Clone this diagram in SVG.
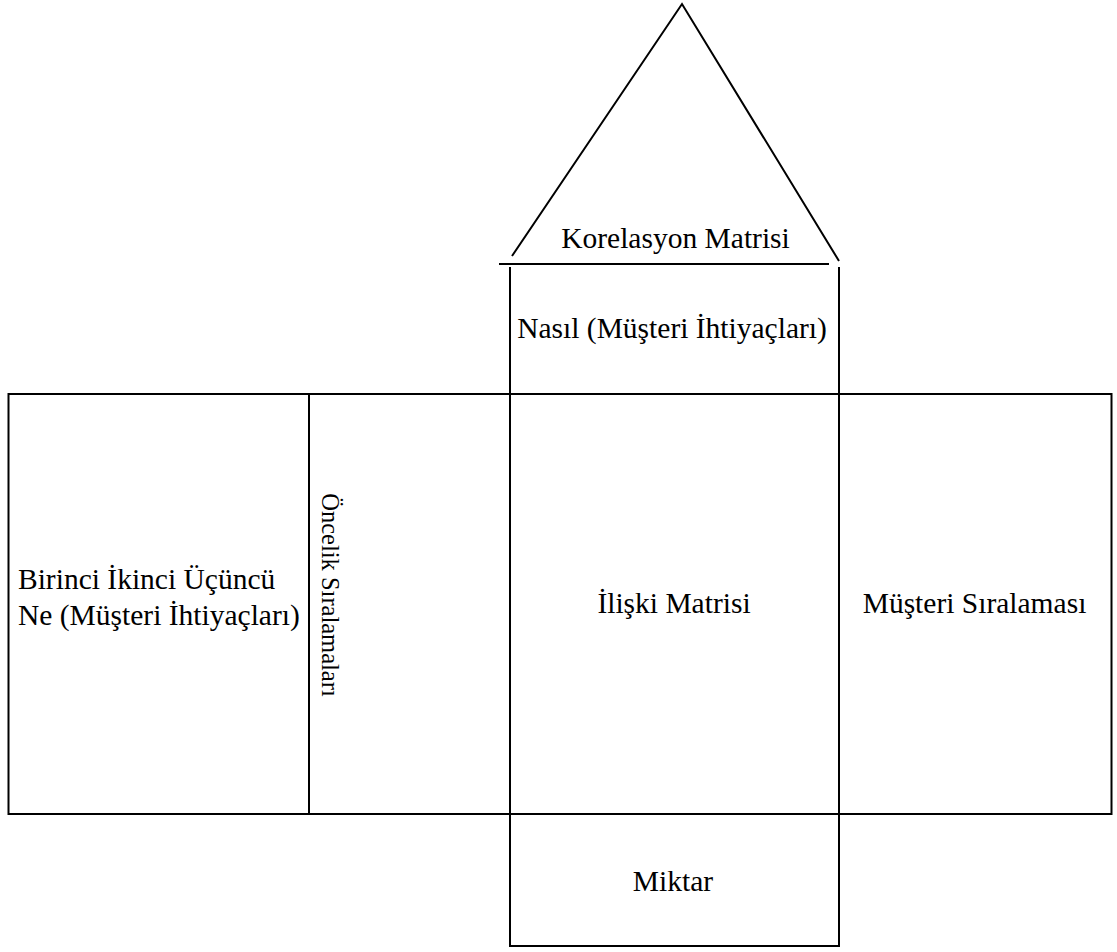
<svg xmlns="http://www.w3.org/2000/svg" width="1117" height="952" viewBox="0 0 1117 952">
<style>
.ln{stroke:#000;stroke-width:2;fill:none}
text{font-family:'Liberation Serif','Times New Roman',Times,serif;font-size:29.5px;fill:#000}
.c{text-anchor:middle}
</style>
<rect width="1117" height="952" fill="#fff"/>
<g id="connectors">
<polyline class="ln" points="512,256 682,4 839,261"/>
<line class="ln" x1="499" y1="264" x2="829" y2="264"/>
<line class="ln" x1="510" y1="267" x2="510" y2="394"/>
<line class="ln" x1="839" y1="267" x2="839" y2="394"/>
</g>
<g id="korelasyon"><text class="c" x="675.5" y="248">Korelasyon Matrisi</text></g>
<g id="nasil"><text class="c" x="672" y="338">Nasıl (Müşteri İhtiyaçları)</text></g>
<g id="main">
<rect class="ln" x="8.5" y="394" width="1103" height="420"/>
<line class="ln" x1="309" y1="394" x2="309" y2="814"/>
<line class="ln" x1="510" y1="394" x2="510" y2="814"/>
<line class="ln" x1="839" y1="394" x2="839" y2="814"/>
</g>
<g id="ne"><text x="18" y="589">Birinci İkinci Üçüncü</text><text x="18" y="625">Ne (Müşteri İhtiyaçları)</text></g>
<g id="oncelik"><text class="c" transform="translate(322,595) rotate(90)" style="font-size:24.5px">Öncelik Sıralamaları</text></g>
<g id="iliski"><text class="c" x="674" y="613">İlişki Matrisi</text></g>
<g id="musteri"><text class="c" x="974.5" y="613">Müşteri Sıralaması</text></g>
<g id="miktar">
<polyline class="ln" points="510,814 510,946 839,946 839,814"/>
<text class="c" x="673" y="891">Miktar</text>
</g>
</svg>
